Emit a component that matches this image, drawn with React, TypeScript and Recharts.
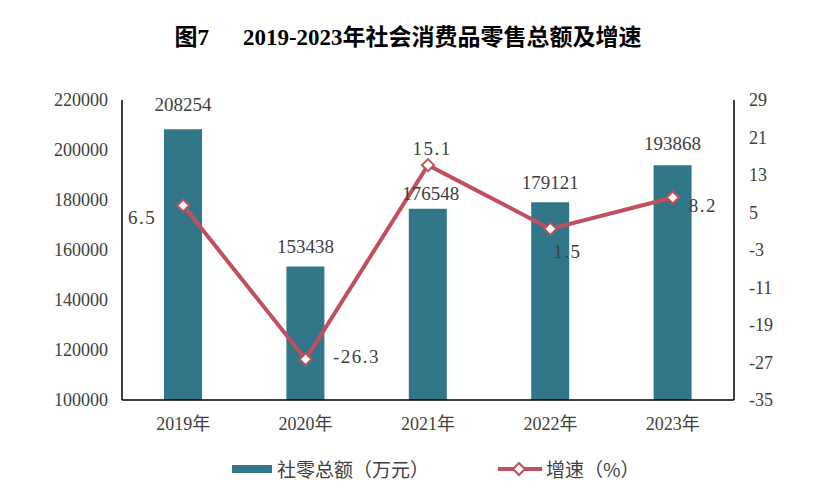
import React from 'react';
import { ComposedChart, Bar, Line, XAxis, YAxis, LabelList } from 'recharts';

const years = ['2019年', '2020年', '2021年', '2022年', '2023年'];
const retailTotals = [208254, 153438, 176548, 179121, 193868];
const growthRates = [6.5, -26.3, 15.1, 1.5, 8.2];
const leftTicks = [100000, 120000, 140000, 160000, 180000, 200000, 220000];
const rightTicks = [-35, -27, -19, -11, -3, 5, 13, 21, 29];

// label placement offsets (pixels), relative to bar top / marker centre
const barLabelDx = [0, 0, 3, 0, 0];
const barLabelDy = [-25, -20, -15, -20, -22];
const lineLabelDx = [-41, 51, 4, 17, 30];
const lineLabelDy = [12, -3, -17, 23, 8];

const data = years.map((year, i) => ({ year, total: retailTotals[i], rate: growthRates[i] }));

const BAR_COLOR = '#327789';
const LINE_COLOR = '#C0505E';
const TEXT_COLOR = '#404040';
const NUM_FONT = '"Liberation Serif", "DejaVu Serif", serif';
const CJK_FONT = '"Liberation Serif", "Noto Sans CJK SC", serif';

const BarValueLabel = (props: any) => {
  const { x, y, width, value, index } = props;
  const cx = Number(x) + Number(width) / 2 + (barLabelDx[index] || 0);
  const cy = Number(y) + (barLabelDy[index] || 0);
  return (
    <text x={cx} y={cy} textAnchor="middle" dominantBaseline="central" fill={TEXT_COLOR}
      style={{ fontFamily: NUM_FONT, fontSize: 19 }}>
      {value}
    </text>
  );
};

const LineValueLabel = (props: any) => {
  const { x, y, value, index } = props;
  const cx = Number(x) + (lineLabelDx[index] || 0);
  const cy = Number(y) + (lineLabelDy[index] || 0);
  return (
    <text x={cx} y={cy} textAnchor="middle" dominantBaseline="central" fill={TEXT_COLOR}
      style={{ fontFamily: NUM_FONT, fontSize: 19, letterSpacing: 1.5 }}>
      {value}
    </text>
  );
};

const DiamondDot = (props: any) => {
  const { cx, cy, index } = props;
  if (cx == null || cy == null) return null;
  const r = 6;
  return (
    <path key={`d-${index}`}
      d={`M${cx},${cy - r} L${cx + r},${cy} L${cx},${cy + r} L${cx - r},${cy} Z`}
      fill="#ffffff" stroke={LINE_COLOR} strokeWidth={2} />
  );
};

export default function App() {
  return (
    <div style={{ position: 'absolute', left: 0, top: 0, width: 816, height: 491, background: '#fff' }}>
      <div style={{
        position: 'absolute', left: 0, top: 22, width: 816, textAlign: 'center',
        fontFamily: CJK_FONT, fontWeight: 'bold', fontSize: 23, color: '#000', lineHeight: '32px',
      }}>
        <span>图7</span>
        <span style={{ marginLeft: 34 }}>2019-2023年社会消费品零售总额及增速</span>
      </div>
      <ComposedChart width={816} height={491} data={data}
        margin={{ top: 100, right: 22, bottom: 61, left: 62 }}>
        <XAxis dataKey="year" axisLine={{ stroke: '#000', strokeWidth: 1.5 }} tickLine={false}
          tickSize={6} tickMargin={11}
          tick={{ fill: TEXT_COLOR, fontSize: 18, fontFamily: CJK_FONT }} height={30} />
        <YAxis yAxisId="left" orientation="left" domain={[100000, 220000]} ticks={leftTicks}
          interval={0} allowDataOverflow width={60}
          axisLine={{ stroke: '#000', strokeWidth: 1.5 }} tickLine={false} tickSize={6} tickMargin={8}
          tick={{ fill: TEXT_COLOR, fontSize: 18, fontFamily: NUM_FONT }} />
        <YAxis yAxisId="right" orientation="right" domain={[-35, 29]} ticks={rightTicks}
          interval={0} allowDataOverflow width={60}
          axisLine={{ stroke: '#000', strokeWidth: 1.5 }} tickLine={false} tickSize={6} tickMargin={9}
          tick={{ fill: TEXT_COLOR, fontSize: 18, fontFamily: NUM_FONT }} />
        <Bar yAxisId="left" dataKey="total" fill={BAR_COLOR} barSize={38} isAnimationActive={false}>
          <LabelList dataKey="total" content={BarValueLabel} />
        </Bar>
        <Line yAxisId="right" dataKey="rate" stroke={LINE_COLOR} strokeWidth={4}
          dot={DiamondDot} activeDot={false} isAnimationActive={false}>
          <LabelList dataKey="rate" content={LineValueLabel} />
        </Line>
      </ComposedChart>
      <div style={{
        position: 'absolute', left: 0, top: 454, width: 816, height: 30,
        fontFamily: '"Noto Sans CJK SC", sans-serif', fontSize: 19, color: TEXT_COLOR,
      }}>
        <div style={{ position: 'absolute', left: 232, top: 11, width: 40, height: 8, background: BAR_COLOR }} />
        <div style={{ position: 'absolute', left: 277, top: 0, lineHeight: '30px', whiteSpace: 'nowrap' }}>社零总额（万元）</div>
        <svg style={{ position: 'absolute', left: 496, top: 5 }} width={48} height={20}>
          <line x1={2} y1={10} x2={46} y2={10} stroke={LINE_COLOR} strokeWidth={4} />
          <path d="M23,4 L29,10 L23,16 L17,10 Z" fill="#fff" stroke={LINE_COLOR} strokeWidth={2} />
        </svg>
        <div style={{ position: 'absolute', left: 546, top: 0, lineHeight: '30px', whiteSpace: 'nowrap' }}>增速（%）</div>
      </div>
    </div>
  );
}
